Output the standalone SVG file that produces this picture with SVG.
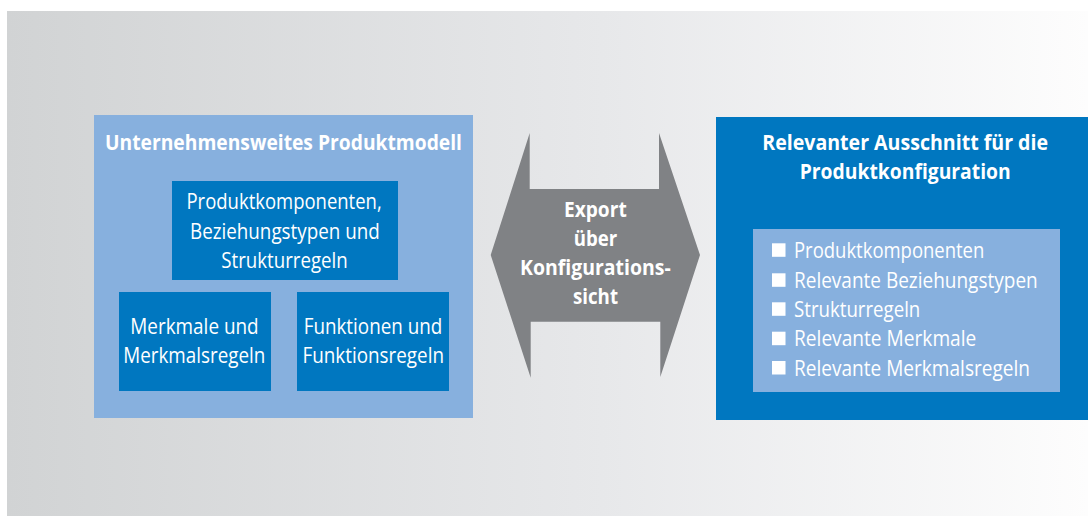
<svg xmlns="http://www.w3.org/2000/svg" width="1088" height="516" viewBox="0 0 1088 516">
<style>
text{font-family:"Open Sans","Noto Sans","Liberation Sans",sans-serif;fill:#fff;font-size:22px;font-weight:400}
.h{font-weight:700;font-size:21.5px}
.l{fill:#87b0de}.d{fill:#0077c0}.b{fill:#fff}
</style>
<defs><linearGradient id="bg" x1="0" y1="0" x2="1" y2="0"><stop offset="0" stop-color="#d1d3d4"/><stop offset="0.55" stop-color="#e7e8ea"/><stop offset="1" stop-color="#fdfdfd"/></linearGradient></defs>
<rect width="1088" height="516" fill="#fff"/>
<rect x="7" y="11" width="1081" height="505" fill="url(#bg)"/>
<g id="produktmodell">
<rect class="l" x="94" y="115" width="379" height="303"/>
<text class="h" x="105" y="149.5" textLength="357" lengthAdjust="spacingAndGlyphs">Unternehmensweites Produktmodell</text>
</g>
<g id="produktkomponenten">
<rect class="d" x="172" y="181" width="226" height="99"/>
<text x="186.5" y="209" textLength="195.2" lengthAdjust="spacingAndGlyphs">Produktkomponenten,</text>
<text x="190" y="238.5" textLength="189.7" lengthAdjust="spacingAndGlyphs">Beziehungstypen und</text>
<text x="221.3" y="267.5" textLength="126.4" lengthAdjust="spacingAndGlyphs">Strukturregeln</text>
</g>
<g id="merkmale">
<rect class="d" x="119" y="292" width="152" height="99"/>
<text x="130.3" y="334" textLength="128.4" lengthAdjust="spacingAndGlyphs">Merkmale und</text>
<text x="123.3" y="363" textLength="142" lengthAdjust="spacingAndGlyphs">Merkmalsregeln</text>
</g>
<g id="funktionen">
<rect class="d" x="297" y="292" width="152" height="99"/>
<text x="303.7" y="334" textLength="138.6" lengthAdjust="spacingAndGlyphs">Funktionen und</text>
<text x="302.5" y="363" textLength="141.5" lengthAdjust="spacingAndGlyphs">Funktionsregeln</text>
</g>
<g id="connectors">
<polygon fill="#808285" points="490.7,255 529.7,133 529.7,189 659,189 659,133 700,255 660.3,377 660.3,321.7 530.7,321.7 530.7,377.7"/>
<text class="h" x="564" y="217" textLength="62.7" lengthAdjust="spacingAndGlyphs">Export</text>
<text class="h" x="573.8" y="246" textLength="43.5" lengthAdjust="spacingAndGlyphs">über</text>
<text class="h" x="520" y="275" textLength="150.7" lengthAdjust="spacingAndGlyphs">Konfigurations-</text>
<text class="h" x="573" y="304.3" textLength="45" lengthAdjust="spacingAndGlyphs">sicht</text>
</g>
<g id="ausschnitt">
<rect class="d" x="716" y="117" width="372" height="303"/>
<text class="h" x="762.3" y="150" textLength="285.7" lengthAdjust="spacingAndGlyphs">Relevanter Ausschnitt für die</text>
<text class="h" x="799.7" y="179" textLength="211" lengthAdjust="spacingAndGlyphs">Produktkonfiguration</text>
</g>
<g id="liste">
<rect class="l" x="753" y="229" width="307" height="163"/>
<rect class="b" x="772" y="243.3" width="13.5" height="13.5"/>
<rect class="b" x="772" y="273.3" width="13.5" height="13.5"/>
<rect class="b" x="772" y="302.3" width="13.5" height="13.5"/>
<rect class="b" x="772" y="331.7" width="13.5" height="13.5"/>
<rect class="b" x="772" y="361" width="13.5" height="13.5"/>
<text x="794" y="257.7" textLength="190.3" lengthAdjust="spacingAndGlyphs">Produktkomponenten</text>
<text x="794" y="287.7" textLength="243.7" lengthAdjust="spacingAndGlyphs">Relevante Beziehungstypen</text>
<text x="794" y="316.7" textLength="126.3" lengthAdjust="spacingAndGlyphs">Strukturregeln</text>
<text x="794" y="346" textLength="182.3" lengthAdjust="spacingAndGlyphs">Relevante Merkmale</text>
<text x="794" y="375.7" textLength="236" lengthAdjust="spacingAndGlyphs">Relevante Merkmalsregeln</text>
</g>
</svg>
